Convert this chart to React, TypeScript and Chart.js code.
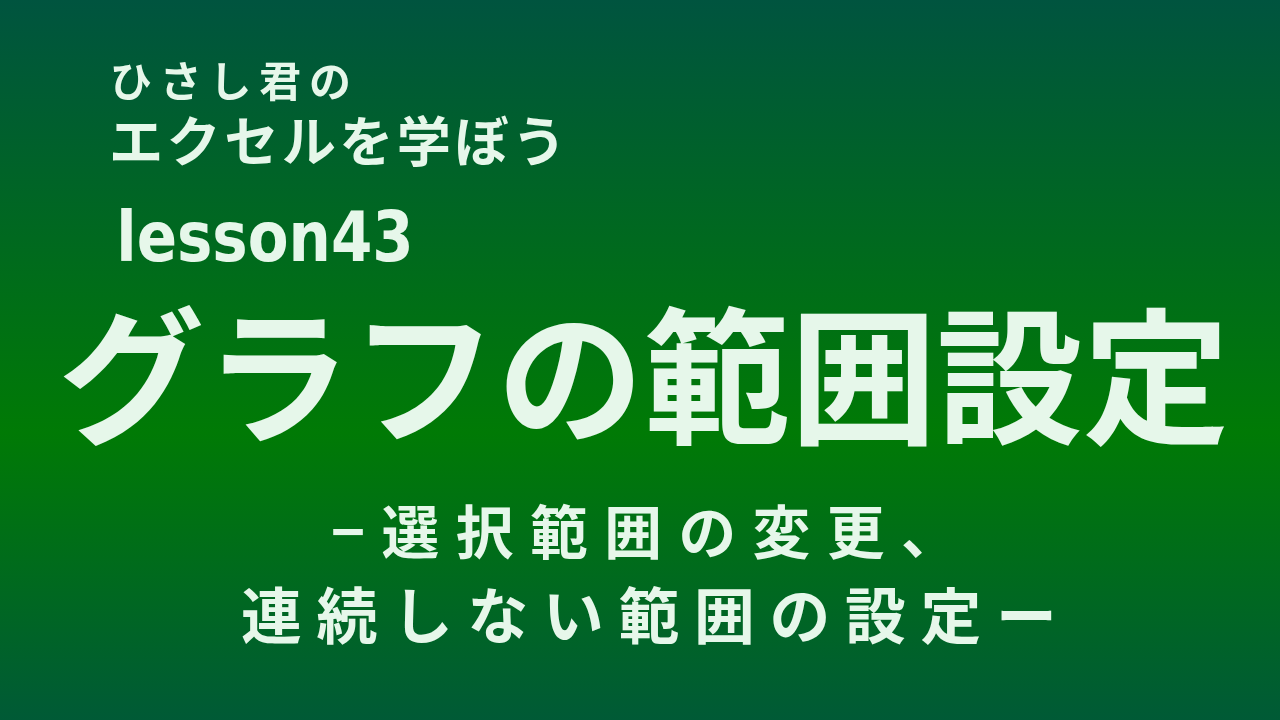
import Chart from "chart.js/auto";
import type { Plugin } from "chart.js";
import { useRef, useEffect } from "react";

// text lines of the card and their ink boxes [left, top, right, bottom]
const seriesTitle = ["ひさし君の", "エクセルを学ぼう"];
const seriesBoxes = [
  [113, 62, 348, 101],
  [113, 114, 557, 166],
];
const lessonLabel = ["lesson43"];
const lessonBoxes = [[121, 208, 409, 262]];
const mainTitle = ["グラフの範囲設定"];
const mainBoxes = [[63, 304, 1225, 446]];
const subTitle = ["−選択範囲の変更、", "連続しない範囲の設定ー"];
const subBoxes = [
  [333, 503, 922, 559],
  [242, 585, 1052, 644],
];

const bgStops: [number, string][] = [
  [0, "#00543f"],
  [0.6, "#007a05"],
  [1, "#005a36"],
];
const textColor = "#e6f7ea";
const cjkFont = '"Noto Sans CJK JP", "Noto Sans", sans-serif';
const latinFont = '"DejaVu Sans Condensed", "DejaVu Sans", sans-serif';

type Line = { text: string; box: number[]; weight: number; family: string };

const drawLine = (ctx: CanvasRenderingContext2D, line: Line) => {
  const [x0, y0, x1, y1] = line.box;
  const chars = Array.from(line.text);
  ctx.font = `${line.weight} 100px ${line.family}`;
  const whole = ctx.measureText(line.text);
  const inkH = whole.actualBoundingBoxAscent + whole.actualBoundingBoxDescent;
  const size = (100 * (y1 - y0)) / inkH;
  ctx.font = `${line.weight} ${size}px ${line.family}`;
  const m = chars.map((c) => ctx.measureText(c));
  const full = ctx.measureText(line.text);
  const baseline = y0 + full.actualBoundingBoxAscent;
  const leftBear = m[0].actualBoundingBoxLeft;
  let natural = leftBear + m[m.length - 1].actualBoundingBoxRight;
  for (let i = 0; i < m.length - 1; i++) natural += m[i].width;
  const target = x1 - x0;
  let spacing = chars.length > 1 ? (target - natural) / (chars.length - 1) : 0;
  let sx = 1;
  if (spacing < 0) {
    sx = target / natural;
    spacing = 0;
  }
  ctx.save();
  ctx.translate(x0, 0);
  ctx.scale(sx, 1);
  let x = leftBear;
  chars.forEach((c, i) => {
    ctx.fillText(c, x, baseline);
    x += m[i].width + spacing / sx;
  });
  ctx.restore();
};

const cardPlugin: Plugin = {
  id: "titleCard",
  beforeDraw(chart) {
    const { ctx, width, height } = chart;
    const g = ctx.createLinearGradient(0, 0, 0, height);
    bgStops.forEach(([p, c]) => g.addColorStop(p, c));
    ctx.save();
    ctx.fillStyle = g;
    ctx.fillRect(0, 0, width, height);
    ctx.restore();
  },
  afterDraw(chart) {
    const ctx = chart.ctx;
    ctx.save();
    ctx.fillStyle = textColor;
    ctx.textAlign = "left";
    ctx.textBaseline = "alphabetic";
    const lines: Line[] = [
      ...seriesTitle.map((t, i) => ({ text: t, box: seriesBoxes[i], weight: 700, family: cjkFont })),
      ...lessonLabel.map((t, i) => ({ text: t, box: lessonBoxes[i], weight: 700, family: latinFont })),
      ...mainTitle.map((t, i) => ({ text: t, box: mainBoxes[i], weight: 700, family: cjkFont })),
      ...subTitle.map((t, i) => ({ text: t, box: subBoxes[i], weight: 700, family: cjkFont })),
    ];
    lines.forEach((l) => drawLine(ctx, l));
    ctx.restore();
  },
};

const TitleCard: React.FC = () => {
  const chartRef = useRef<HTMLCanvasElement>(null);
  const chartInstance = useRef<Chart>();

  useEffect(() => {
    document.body.style.margin = "0";
    if (!chartRef.current) return;
    const ctx = chartRef.current.getContext("2d");
    if (!ctx) return;
    if (chartInstance.current) chartInstance.current.destroy();
    chartInstance.current = new Chart(ctx, {
      type: "bar",
      data: { labels: [], datasets: [] },
      options: {
        animation: false,
        responsive: true,
        maintainAspectRatio: false,
        layout: { padding: 0 },
        plugins: { legend: { display: false }, tooltip: { enabled: false } },
        scales: { x: { display: false }, y: { display: false } },
      },
      plugins: [cardPlugin],
    });
    return () => {
      if (chartInstance.current) {
        chartInstance.current.destroy();
        chartInstance.current = undefined;
      }
    };
  }, []);

  return (
    <div style={{ position: "relative", width: 1280, height: 720 }}>
      <canvas ref={chartRef}></canvas>
    </div>
  );
};

export default function App() {
  return <TitleCard />;
}
